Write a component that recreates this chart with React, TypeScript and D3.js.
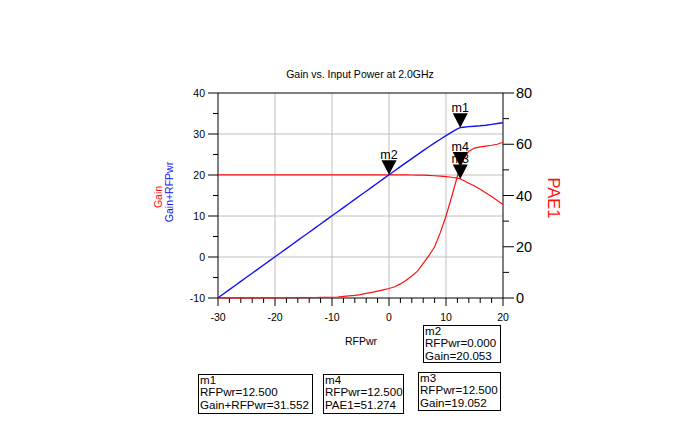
import React from "react";
import * as d3 from "d3";

const rfPwr = [-30,-29,-28,-27,-26,-25,-24,-23,-22,-21,-20,-19,-18,-17,-16,-15,-14,-13,-12,-11,-10,-9,-8,-7,-6,-5,-4,-3,-2,-1,0,1,2,3,4,5,6,7,8,9,10,11,12,12.5,13,14,15,16,17,18,19,20];
const gain = [20.05,20.05,20.05,20.05,20.05,20.05,20.05,20.05,20.05,20.05,20.05,20.05,20.05,20.05,20.05,20.05,20.05,20.05,20.05,20.05,20.05,20.05,20.05,20.05,20.05,20.05,20.05,20.05,20.05,20.05,20.053,20.05,20.04,20.03,20.0,19.98,19.95,19.9,19.82,19.72,19.6,19.45,19.25,19.052,18.7,18.0,17.3,16.5,15.6,14.75,13.8,12.8];
const gainPlusPwr = [-9.95,-8.95,-7.95,-6.95,-5.95,-4.95,-3.95,-2.95,-1.95,-0.95,0.05,1.05,2.05,3.05,4.05,5.05,6.05,7.05,8.05,9.05,10.05,11.05,12.05,13.05,14.05,15.05,16.05,17.05,18.05,19.05,20.053,21.05,22.04,23.03,24.0,24.98,25.95,26.9,27.82,28.72,29.6,30.45,31.25,31.552,31.65,31.8,31.9,32.0,32.15,32.35,32.55,32.75];
const pae = [0.01,0.01,0.02,0.02,0.03,0.03,0.04,0.05,0.06,0.07,0.08,0.09,0.1,0.11,0.13,0.15,0.17,0.2,0.23,0.26,0.3,0.4,0.6,0.8,1.0,1.3,1.8,2.2,2.7,3.2,3.7,4.4,5.5,6.9,8.6,10.5,13.5,16.5,20,25.5,32,39.5,47.5,51.274,53.8,57.3,58.5,59.0,59.3,59.6,60.0,60.8];

const xTicks = [-30,-20,-10,0,10,20];
const leftTicks = [-10,0,10,20,30,40];
const rightTicks = [0,20,40,60,80];

const markerNames = ["m1","m2","m3","m4"];
const markerX = [12.5, 0, 12.5, 12.5];
const markerY = [31.552, 20.053, 19.052, 51.274];
const markerAxis = ["left","left","left","right"];
const readoutLines = [
  ["m1","RFPwr=12.500","Gain+RFPwr=31.552"],
  ["m2","RFPwr=0.000","Gain=20.053"],
  ["m3","RFPwr=12.500","Gain=19.052"],
  ["m4","RFPwr=12.500","PAE1=51.274"],
];
const readoutBoxes = [
  {x:198,y:374,w:114,h:39},
  {x:423,y:325,w:77,h:37},
  {x:418,y:372,w:82,h:38},
  {x:323,y:374,w:80,h:39},
];

const FONT = "'Liberation Sans', Arial, sans-serif";
const BLUE = "#1414f0";
const RED = "#ff1010";

export default function App() {
  const x = d3.scaleLinear().domain([-30, 20]).range([218, 503]);
  const yL = d3.scaleLinear().domain([-10, 40]).range([298, 93]);
  const yR = d3.scaleLinear().domain([0, 80]).range([298, 93]);

  const idx = rfPwr.map((_, i) => i);
  const lineL = (arr: number[]) => d3.line<number>().x(i => x(rfPwr[i])).y(i => yL(arr[i]))(idx) || "";
  const paePath = d3.line<number>().x(i => x(rfPwr[i])).y(i => yR(pae[i]))(idx) || "";

  const xMinor = d3.range(-30, 20.01, 2);
  const lMinor = d3.range(-10, 40.01, 5);
  const rMinor = d3.range(0, 80.01, 10);

  const drawOrder = [0, 1, 2, 3];

  return (
    <svg width={685} height={435} style={{ position: "absolute", left: 0, top: 0 }} fontFamily={FONT}>
      <rect width={685} height={435} fill="#fff" />
      <text x={360} y={78} fontSize={10.5} textAnchor="middle" fill="#000">Gain vs. Input Power at 2.0GHz</text>

      {/* grid */}
      {xTicks.slice(1, -1).map(t => (
        <line key={"gx" + t} x1={x(t)} x2={x(t)} y1={93} y2={298} stroke="#c0c0c0" strokeWidth={1} />
      ))}
      {leftTicks.slice(1, -1).map(t => (
        <line key={"gy" + t} x1={218} x2={503} y1={yL(t)} y2={yL(t)} stroke="#c0c0c0" strokeWidth={1} />
      ))}

      {/* frame */}
      <line x1={218} x2={503} y1={93} y2={93} stroke="#000" />
      <line x1={218} x2={503} y1={298} y2={298} stroke="#000" />
      <line x1={218} x2={218} y1={93} y2={298} stroke="#000" />
      <line x1={503} x2={503} y1={93} y2={298} stroke="#000" />

      {/* bottom ticks */}
      {xMinor.map(t => (
        <line key={"xt" + t} x1={x(t)} x2={x(t)} y1={298} y2={298 + (t % 10 === 0 ? 8 : 5)} stroke="#000" />
      ))}
      {xTicks.map(t => (
        <text key={"xl" + t} x={x(t)} y={321} fontSize={10.5} textAnchor="middle" fill="#000">{t}</text>
      ))}
      {/* left ticks */}
      {lMinor.map(t => (
        <line key={"lt" + t} x1={218 - (t % 10 === 0 ? 10 : 5)} x2={218} y1={yL(t)} y2={yL(t)} stroke="#000" />
      ))}
      {leftTicks.map(t => (
        <text key={"ll" + t} x={205} y={yL(t)} dy="0.35em" fontSize={10.5} textAnchor="end" fill="#000">{t}</text>
      ))}
      {/* right ticks */}
      {rMinor.map(t => (
        <line key={"rt" + t} x1={503} x2={503 + (t % 20 === 0 ? 11 : 6)} y1={yR(t)} y2={yR(t)} stroke="#000" />
      ))}
      {rightTicks.map(t => (
        <text key={"rl" + t} x={516} y={yR(t)} dy="0.36em" fontSize={14.5} textAnchor="start" fill="#000">{t}</text>
      ))}

      {/* axis titles */}
      <text x={361} y={345} fontSize={10.5} textAnchor="middle" fill="#000">RFPwr</text>
      <text transform="translate(161.5,197) rotate(-90)" fontSize={10.5} textAnchor="middle" fill={RED}>Gain</text>
      <text transform="translate(173,192) rotate(-90)" fontSize={10.5} textAnchor="middle" fill={BLUE}>Gain+RFPwr</text>
      <text transform="translate(548,198) rotate(90)" fontSize={16.5} textAnchor="middle" fill={RED}>PAE1</text>

      {/* curves */}
      <path d={lineL(gain)} fill="none" stroke={RED} strokeWidth={1.2} />
      <path d={paePath} fill="none" stroke={RED} strokeWidth={1.2} />
      <path d={lineL(gainPlusPwr)} fill="none" stroke={BLUE} strokeWidth={1.4} />

      {/* markers */}
      {drawOrder.map(i => {
        const mx = x(markerX[i]);
        const my = markerAxis[i] === "left" ? yL(markerY[i]) : yR(markerY[i]);
        return (
          <g key={"m" + i}>
            <text x={mx} y={my - 15.5} fontSize={12.5} textAnchor="middle" fill="#000">{markerNames[i]}</text>
            <path d={`M${mx - 7.5},${my - 14.5}L${mx + 7.5},${my - 14.5}L${mx},${my}Z`} fill="#000" />
          </g>
        );
      })}

      {/* readouts */}
      {readoutBoxes.map((b, i) => (
        <g key={"rb" + i}>
          <rect x={b.x + 0.5} y={b.y + 0.5} width={b.w} height={b.h} fill="#fff" stroke="#000" strokeWidth={1} />
          {readoutLines[i].map((s, j) => (
            <text key={j} x={b.x + 2} y={b.y + 9.5 + j * 12.9} fontSize={11.6} fill="#000">{s}</text>
          ))}
        </g>
      ))}
    </svg>
  );
}
